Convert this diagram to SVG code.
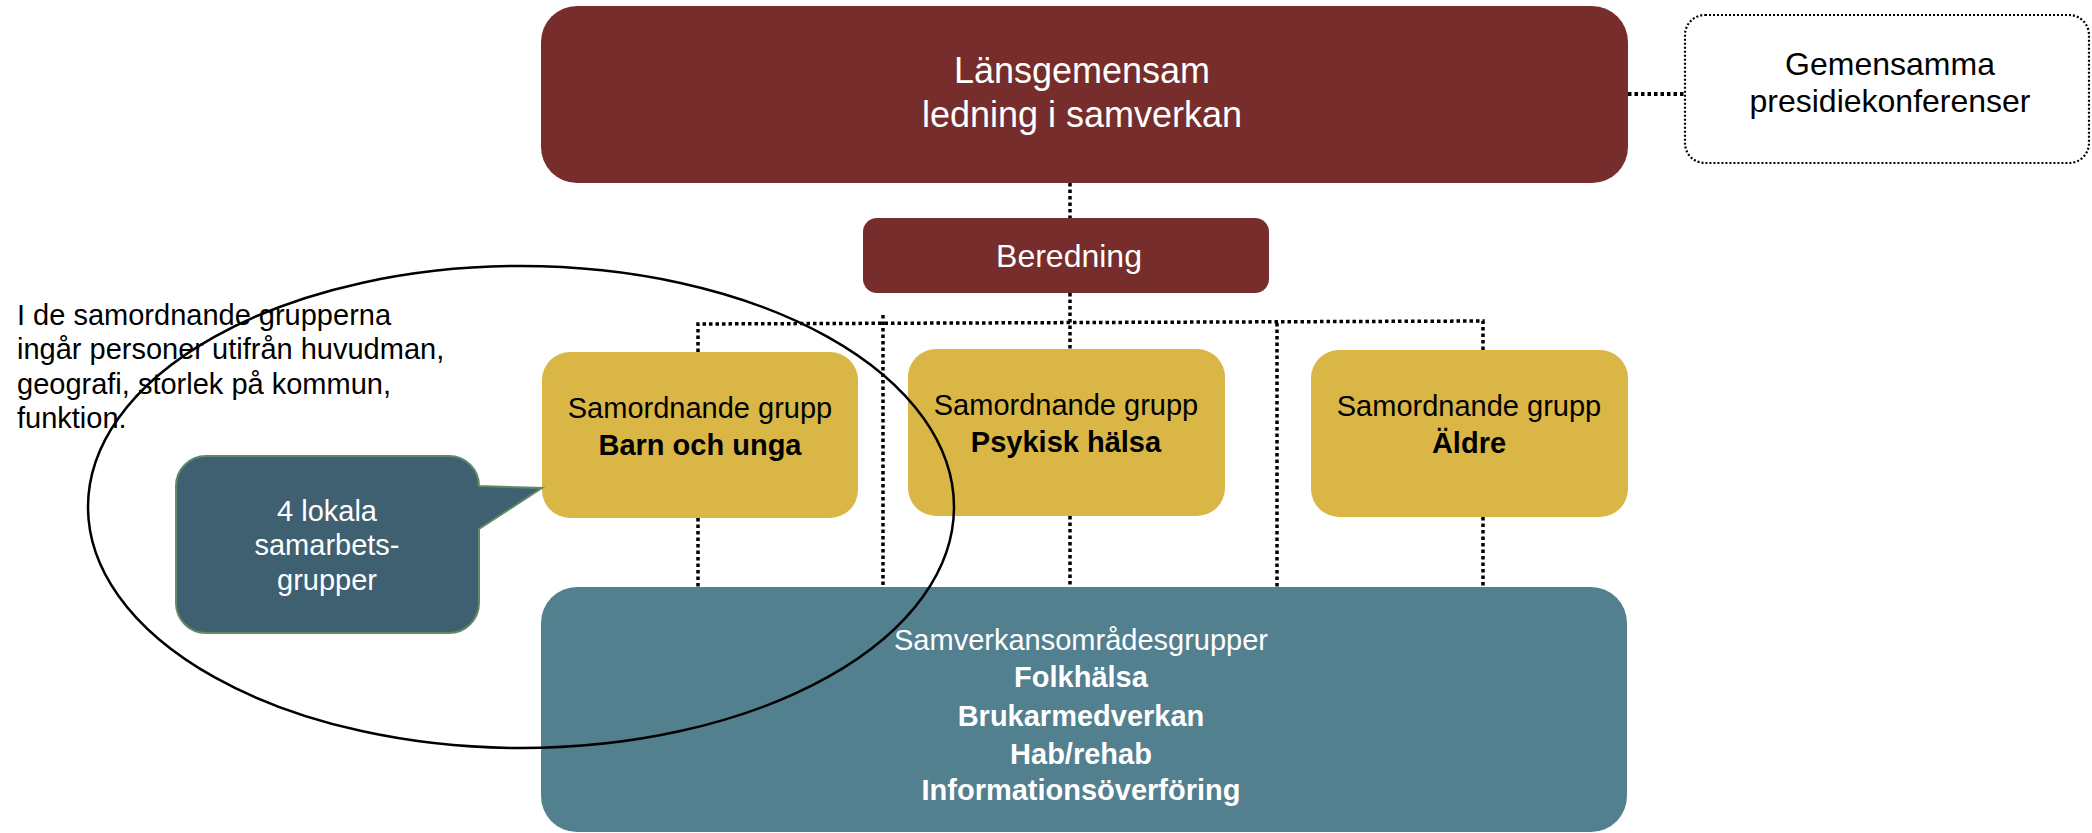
<svg xmlns="http://www.w3.org/2000/svg" width="2092" height="833" viewBox="0 0 2092 833">
<defs>
<style>
text{font-family:"Liberation Sans",Arial,sans-serif;text-anchor:middle}
.red{fill:#772D2C}
.yel{fill:#D9B645}
.blu{fill:#52808F}
.wt{fill:#FFFFFF}
.bk{fill:#000000}
.b{font-weight:bold}
.dot{stroke:#000;stroke-width:3.5;stroke-dasharray:3.5 3;fill:none}
</style>
</defs>
<rect width="2092" height="833" fill="#FFFFFF"/>
<g id="connectors">
<line class="dot" x1="1628" y1="94" x2="1685" y2="94" style="stroke-width:4"/>
<line class="dot" x1="1070" y1="183" x2="1070" y2="218"/>
<line class="dot" x1="1070" y1="293" x2="1070" y2="349"/>
<line class="dot" x1="1070" y1="516" x2="1070" y2="587"/>
<polyline class="dot" points="698,352 698,324 1483,321 1483,350"/>
<line class="dot" x1="698" y1="518" x2="698" y2="587"/>
<line class="dot" x1="883" y1="315" x2="883" y2="587"/>
<line class="dot" x1="1277" y1="323" x2="1277" y2="587"/>
<line class="dot" x1="1483" y1="517" x2="1483" y2="587"/>
</g>
<g id="lansgemensam">
<rect class="red" x="541" y="6" width="1087" height="177" rx="36" ry="36"/>
<text class="wt" x="1082" y="83" font-size="36">Länsgemensam</text>
<text class="wt" x="1082" y="127" font-size="36">ledning i samverkan</text>
</g>
<g id="presidiekonferenser">
<rect x="1685" y="15" width="404" height="148" rx="20" ry="20" fill="#FFFFFF" stroke="#000" stroke-width="2.2" stroke-dasharray="2 2"/>
<text class="bk" x="1890" y="75" font-size="32">Gemensamma</text>
<text class="bk" x="1890" y="112" font-size="32">presidiekonferenser</text>
</g>
<g id="beredning">
<rect class="red" x="863" y="218" width="406" height="75" rx="14" ry="14"/>
<text class="wt" x="1069" y="267" font-size="32">Beredning</text>
</g>
<g id="barn">
<rect class="yel" x="542" y="352" width="316" height="166" rx="28" ry="28"/>
<text class="bk" x="700" y="418" font-size="29">Samordnande grupp</text>
<text class="bk b" x="700" y="455" font-size="29">Barn och unga</text>
</g>
<g id="psykisk">
<rect class="yel" x="908" y="349" width="317" height="167" rx="28" ry="28"/>
<text class="bk" x="1066" y="415" font-size="29">Samordnande grupp</text>
<text class="bk b" x="1066" y="452" font-size="29">Psykisk hälsa</text>
</g>
<g id="aldre">
<rect class="yel" x="1311" y="350" width="317" height="167" rx="28" ry="28"/>
<text class="bk" x="1469" y="416" font-size="29">Samordnande grupp</text>
<text class="bk b" x="1469" y="453" font-size="29">Äldre</text>
</g>
<g id="samverkan">
<rect class="blu" x="541" y="587" width="1086" height="245" rx="36" ry="36"/>
<text class="wt" x="1081" y="650" font-size="29">Samverkansområdesgrupper</text>
<text class="wt b" x="1081" y="687" font-size="29">Folkhälsa</text>
<text class="wt b" x="1081" y="726" font-size="29">Brukarmedverkan</text>
<text class="wt b" x="1081" y="764" font-size="29">Hab/rehab</text>
<text class="wt b" x="1081" y="800" font-size="29">Informationsöverföring</text>
</g>
<g id="lokala">
<path d="M206 456 H449 A30 30 0 0 1 479 486 L542 488 L479 529 V603 A30 30 0 0 1 449 633 H206 A30 30 0 0 1 176 603 V486 A30 30 0 0 1 206 456 Z" fill="#3E6070" stroke="#628A68" stroke-width="2"/>
<text class="wt" x="327" y="521" font-size="29">4 lokala</text>
<text class="wt" x="327" y="555" font-size="29">samarbets-</text>
<text class="wt" x="327" y="590" font-size="29">grupper</text>
</g>
<g id="note">
<text class="bk" x="17" y="325" font-size="29" style="text-anchor:start">I de samordnande grupperna</text>
<text class="bk" x="17" y="359" font-size="29" style="text-anchor:start">ingår personer utifrån huvudman,</text>
<text class="bk" x="17" y="394" font-size="29" style="text-anchor:start">geografi, storlek på kommun,</text>
<text class="bk" x="17" y="428" font-size="29" style="text-anchor:start">funktion.</text>
</g>
<g id="ellipse">
<ellipse cx="521" cy="507" rx="433" ry="241" fill="none" stroke="#000" stroke-width="2.5"/>
</g>
</svg>
